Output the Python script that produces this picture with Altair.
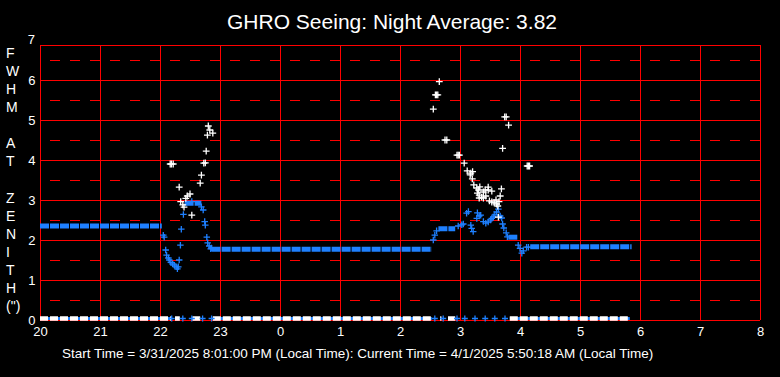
import altair as alt
import pandas as pd

FONT = "Liberation Sans"
RED = "#FF0000"
BLUE = "#1E80FF"
WHITE = "#FFFFFF"
PLUS = "M-1,0L1,0M0,-1L0,1"

TITLE = "GHRO Seeing: Night Average: 3.82"
FOOTER = "Start Time = 3/31/2025 8:01:00 PM (Local Time): Current Time = 4/1/2025 5:50:18 AM (Local Time)"
Y_TITLE_WORDS = ["FWHM", "AT", "ZENITH", "(\")"]

# hours since 20:00 on the start day (24 -> 0h, 32 -> 8h)
X_TICKS = [20, 21, 22, 23, 24, 25, 26, 27, 28, 29, 30, 31, 32]
Y_TICKS = [0, 1, 2, 3, 4, 5, 6]
Y_TOP_LABEL = 7
Y_MAX = 6.875
SOLID_Y = [1, 2, 3, 4, 5, 6]
DASHED_Y = [0.5, 1.5, 2.5, 3.5, 4.5, 5.5, 6.5]
GRID_X = [21, 22, 23, 24, 25, 26, 27, 28, 29, 30, 31]
FRAME_X = [20, 32]
FRAME_Y = [0, Y_MAX]

# dense runs of blue samples (start hour, end hour, value)
BLUE_RUN_START = [20.00, 22.41, 22.86, 26.64, 27.805, 28.17]
BLUE_RUN_END = [22.03, 22.69, 26.53, 26.92, 27.97, 29.86]
BLUE_RUN_VALUE = [2.35, 2.92, 1.77, 2.28, 2.07, 1.83]

# dense runs of white samples at zero
WHITE_ZERO_START = [20.00, 22.25, 22.54, 22.88, 26.67, 26.80, 27.83]
WHITE_ZERO_END = [22.18, 22.33, 22.67, 26.53, 26.69, 26.92, 29.83]

# isolated blue samples at zero
BLUE_ZERO_T = [22.195, 22.38, 22.53, 22.71, 22.86, 26.58, 26.72, 26.95, 27.08,
               27.25, 27.42, 27.58, 27.75]

# isolated blue samples
BLUE_T = [22.055, 22.07, 22.095, 22.11, 22.14, 22.155, 22.18, 22.21, 22.24, 22.27,
          22.29, 22.305, 22.32, 22.34, 22.355, 22.39, 22.53, 22.69, 22.72, 22.745,
          22.755, 22.78, 22.795, 22.82, 22.845, 22.855,
          26.555, 26.58, 26.61, 26.97, 27.03, 27.055, 27.11, 27.14, 27.18, 27.195,
          27.22, 27.28, 27.29, 27.32, 27.345, 27.39, 27.43, 27.47, 27.51, 27.53,
          27.555, 27.58, 27.61, 27.64, 27.67, 27.695, 27.71, 27.73, 27.77, 27.79,
          27.97, 28.0, 28.03, 28.055, 28.11, 28.14]
BLUE_V = [2.12, 2.07, 1.75, 1.62, 1.55, 1.50, 1.44, 1.40, 1.37, 1.33,
          1.28, 1.33, 1.50, 1.87, 2.27, 2.64, 2.96, 2.83, 2.75, 2.46,
          2.37, 2.07, 1.93, 1.85, 1.78, 1.80,
          2.00, 2.12, 2.23, 2.35, 2.38, 2.40, 2.67, 2.71, 2.37, 2.29,
          2.21, 2.54, 2.68, 2.60, 2.62, 2.46, 2.42, 2.45, 2.50, 2.54,
          2.58, 2.63, 2.70, 2.77, 2.60, 2.55, 2.40, 2.30, 2.18, 2.08,
          1.87, 1.79, 1.67, 1.73, 1.82, 1.82]

# isolated white samples
WHITE_T = [22.805, 22.83, 22.79, 22.88, 22.77, 22.17, 22.19, 22.22, 22.73, 22.755,
           22.69, 22.67, 22.32, 22.50, 22.455, 22.43, 22.345, 22.38, 22.40, 22.53,
           26.655, 26.59, 26.61, 26.63, 26.555, 27.745, 27.77, 27.81, 26.75, 26.78,
           27.71, 26.95, 26.97, 26.99, 28.12, 28.14, 28.16, 27.07, 27.12, 27.18,
           27.21, 27.17, 27.205, 27.23, 27.28, 27.31, 27.33, 27.29, 27.32, 27.36,
           27.39, 27.42, 27.47, 27.47, 27.53, 27.43, 27.39, 27.32, 27.69, 27.67,
           27.49, 27.53, 27.57, 27.61, 27.60, 27.65, 27.63, 27.64]
WHITE_V = [4.85, 4.75, 4.62, 4.67, 4.22, 3.90, 3.90, 3.90, 3.92, 3.93,
           3.62, 3.42, 3.32, 3.15, 3.10, 3.04, 2.96, 2.88, 2.82, 2.62,
           5.96, 5.63, 5.63, 5.63, 5.27, 5.08, 5.08, 4.87, 4.50, 4.50,
           4.29, 4.12, 4.12, 4.12, 3.85, 3.85, 3.85, 3.92, 3.73, 3.67,
           3.71, 3.63, 3.53, 3.38, 3.30, 3.25, 3.33, 3.17, 3.12, 3.07,
           3.20, 3.25, 3.32, 3.25, 3.22, 3.10, 3.05, 3.05, 3.28, 3.10,
           2.98, 2.95, 2.93, 2.90, 3.00, 2.96, 2.85, 2.57]

xs = alt.Scale(domain=[20, 32], nice=False, zero=False)
ys = alt.Scale(domain=[0, Y_MAX], nice=False, zero=False)
x_axis = alt.Axis(values=X_TICKS, labelExpr="datum.value % 24", grid=False, ticks=False,
                  tickSize=0, domain=False, labelColor=WHITE, labelFont=FONT,
                  labelFontSize=13, labelPadding=5, title=None, labelFlush=False,
                  labelOverlap=False)
y_axis = alt.Axis(values=Y_TICKS, grid=False, ticks=False, tickSize=0, domain=False,
                  labelColor=WHITE, labelFont=FONT, labelFontSize=13, labelPadding=5,
                  title=None, labelFlush=False, labelOverlap=False)


def X(f):
    return alt.X(f, type="quantitative", scale=xs, axis=x_axis)


def Y(f):
    return alt.Y(f, type="quantitative", scale=ys, axis=y_axis)


grid_h = alt.Chart(pd.DataFrame({"v": SOLID_Y + FRAME_Y})).mark_rule(
    color=RED, strokeWidth=1, yOffset=0.5).encode(y=Y("v"))
grid_hd = alt.Chart(pd.DataFrame({"v": DASHED_Y})).mark_rule(
    color=RED, strokeWidth=1, strokeDash=[10, 10], yOffset=0.5).encode(y=Y("v"))
grid_v = alt.Chart(pd.DataFrame({"t": GRID_X + FRAME_X})).mark_rule(
    color=RED, strokeWidth=1, xOffset=0.5).encode(x=X("t"))

runs = pd.DataFrame({"t0": BLUE_RUN_START, "t1": BLUE_RUN_END, "v": BLUE_RUN_VALUE})
blue_runs = alt.Chart(runs).mark_rule(color=BLUE, strokeWidth=5, strokeDash=[9, 1]).encode(
    x=X("t0"), x2="t1", y=Y("v"))

blue_pts = alt.Chart(pd.DataFrame({"t": BLUE_T, "v": BLUE_V})).mark_point(
    shape=PLUS, size=42, color=BLUE, strokeWidth=1.3, opacity=1).encode(x=X("t"), y=Y("v"))
white_pts = alt.Chart(pd.DataFrame({"t": WHITE_T, "v": WHITE_V})).mark_point(
    shape=PLUS, size=46, color=WHITE, strokeWidth=1.3, opacity=1).encode(x=X("t"), y=Y("v"))

zero_df = pd.DataFrame({"t0": WHITE_ZERO_START, "t1": WHITE_ZERO_END})
zero_under = alt.Chart(zero_df).mark_rule(color=BLUE, strokeWidth=3, yOffset=-1.5).encode(
    x=X("t0"), x2="t1", y=alt.datum(0))
zero_white = alt.Chart(zero_df).mark_rule(color=WHITE, strokeWidth=4.5, strokeDash=[8, 2],
                                          yOffset=-1.5).encode(x=X("t0"), x2="t1", y=alt.datum(0))
zero_blue_pts = alt.Chart(pd.DataFrame({"t": BLUE_ZERO_T})).mark_point(
    shape=PLUS, size=36, color=BLUE, strokeWidth=1.3, opacity=1, yOffset=-1.5).encode(
    x=X("t"), y=alt.datum(0))

one = pd.DataFrame({"k": [0]})
title = alt.Chart(one).mark_text(text=TITLE, font=FONT, fontSize=21, color=WHITE,
                                 align="center", baseline="alphabetic").encode(
    x=alt.value(352), y=alt.value(-16))
footer = alt.Chart(one).mark_text(text=FOOTER, font=FONT, fontSize=13.5, color=WHITE,
                                  align="left", baseline="alphabetic").encode(
    x=alt.value(22), y=alt.value(313))

# vertical y-axis title: one letter per line, a blank line between words
LINE_H = 18.07
ytitle_layers = []
line_index = 0
for word in Y_TITLE_WORDS:
    letters = [word] if word.startswith("(") else list(word)
    ytitle_layers.append(
        alt.Chart(one).mark_text(text=letters, font=FONT, fontSize=14, color=WHITE,
                                 align="left", baseline="alphabetic", lineHeight=LINE_H).encode(
            x=alt.value(-34), y=alt.value(13 + line_index * LINE_H)))
    line_index += len(letters) + (1 if word in ("FWHM", "AT") else 0)

top_label = alt.Chart(one).mark_text(text=str(Y_TOP_LABEL), font=FONT, fontSize=13, color=WHITE,
                                     align="right", baseline="middle").encode(
    x=alt.value(-5), y=alt.datum(Y_TOP_LABEL))

chart = alt.layer(
    grid_hd, grid_h, grid_v, blue_runs, blue_pts, white_pts,
    zero_under, zero_white, zero_blue_pts, title, footer, *ytitle_layers, top_label
).properties(
    width=720, height=275,
    autosize=alt.AutoSizeParams(type="none"),
    padding={"left": 40, "top": 45, "right": 20, "bottom": 57},
    background="black",
).configure_view(stroke=None)

chart.save("out.html", embed_options={"renderer": "svg", "actions": False})
